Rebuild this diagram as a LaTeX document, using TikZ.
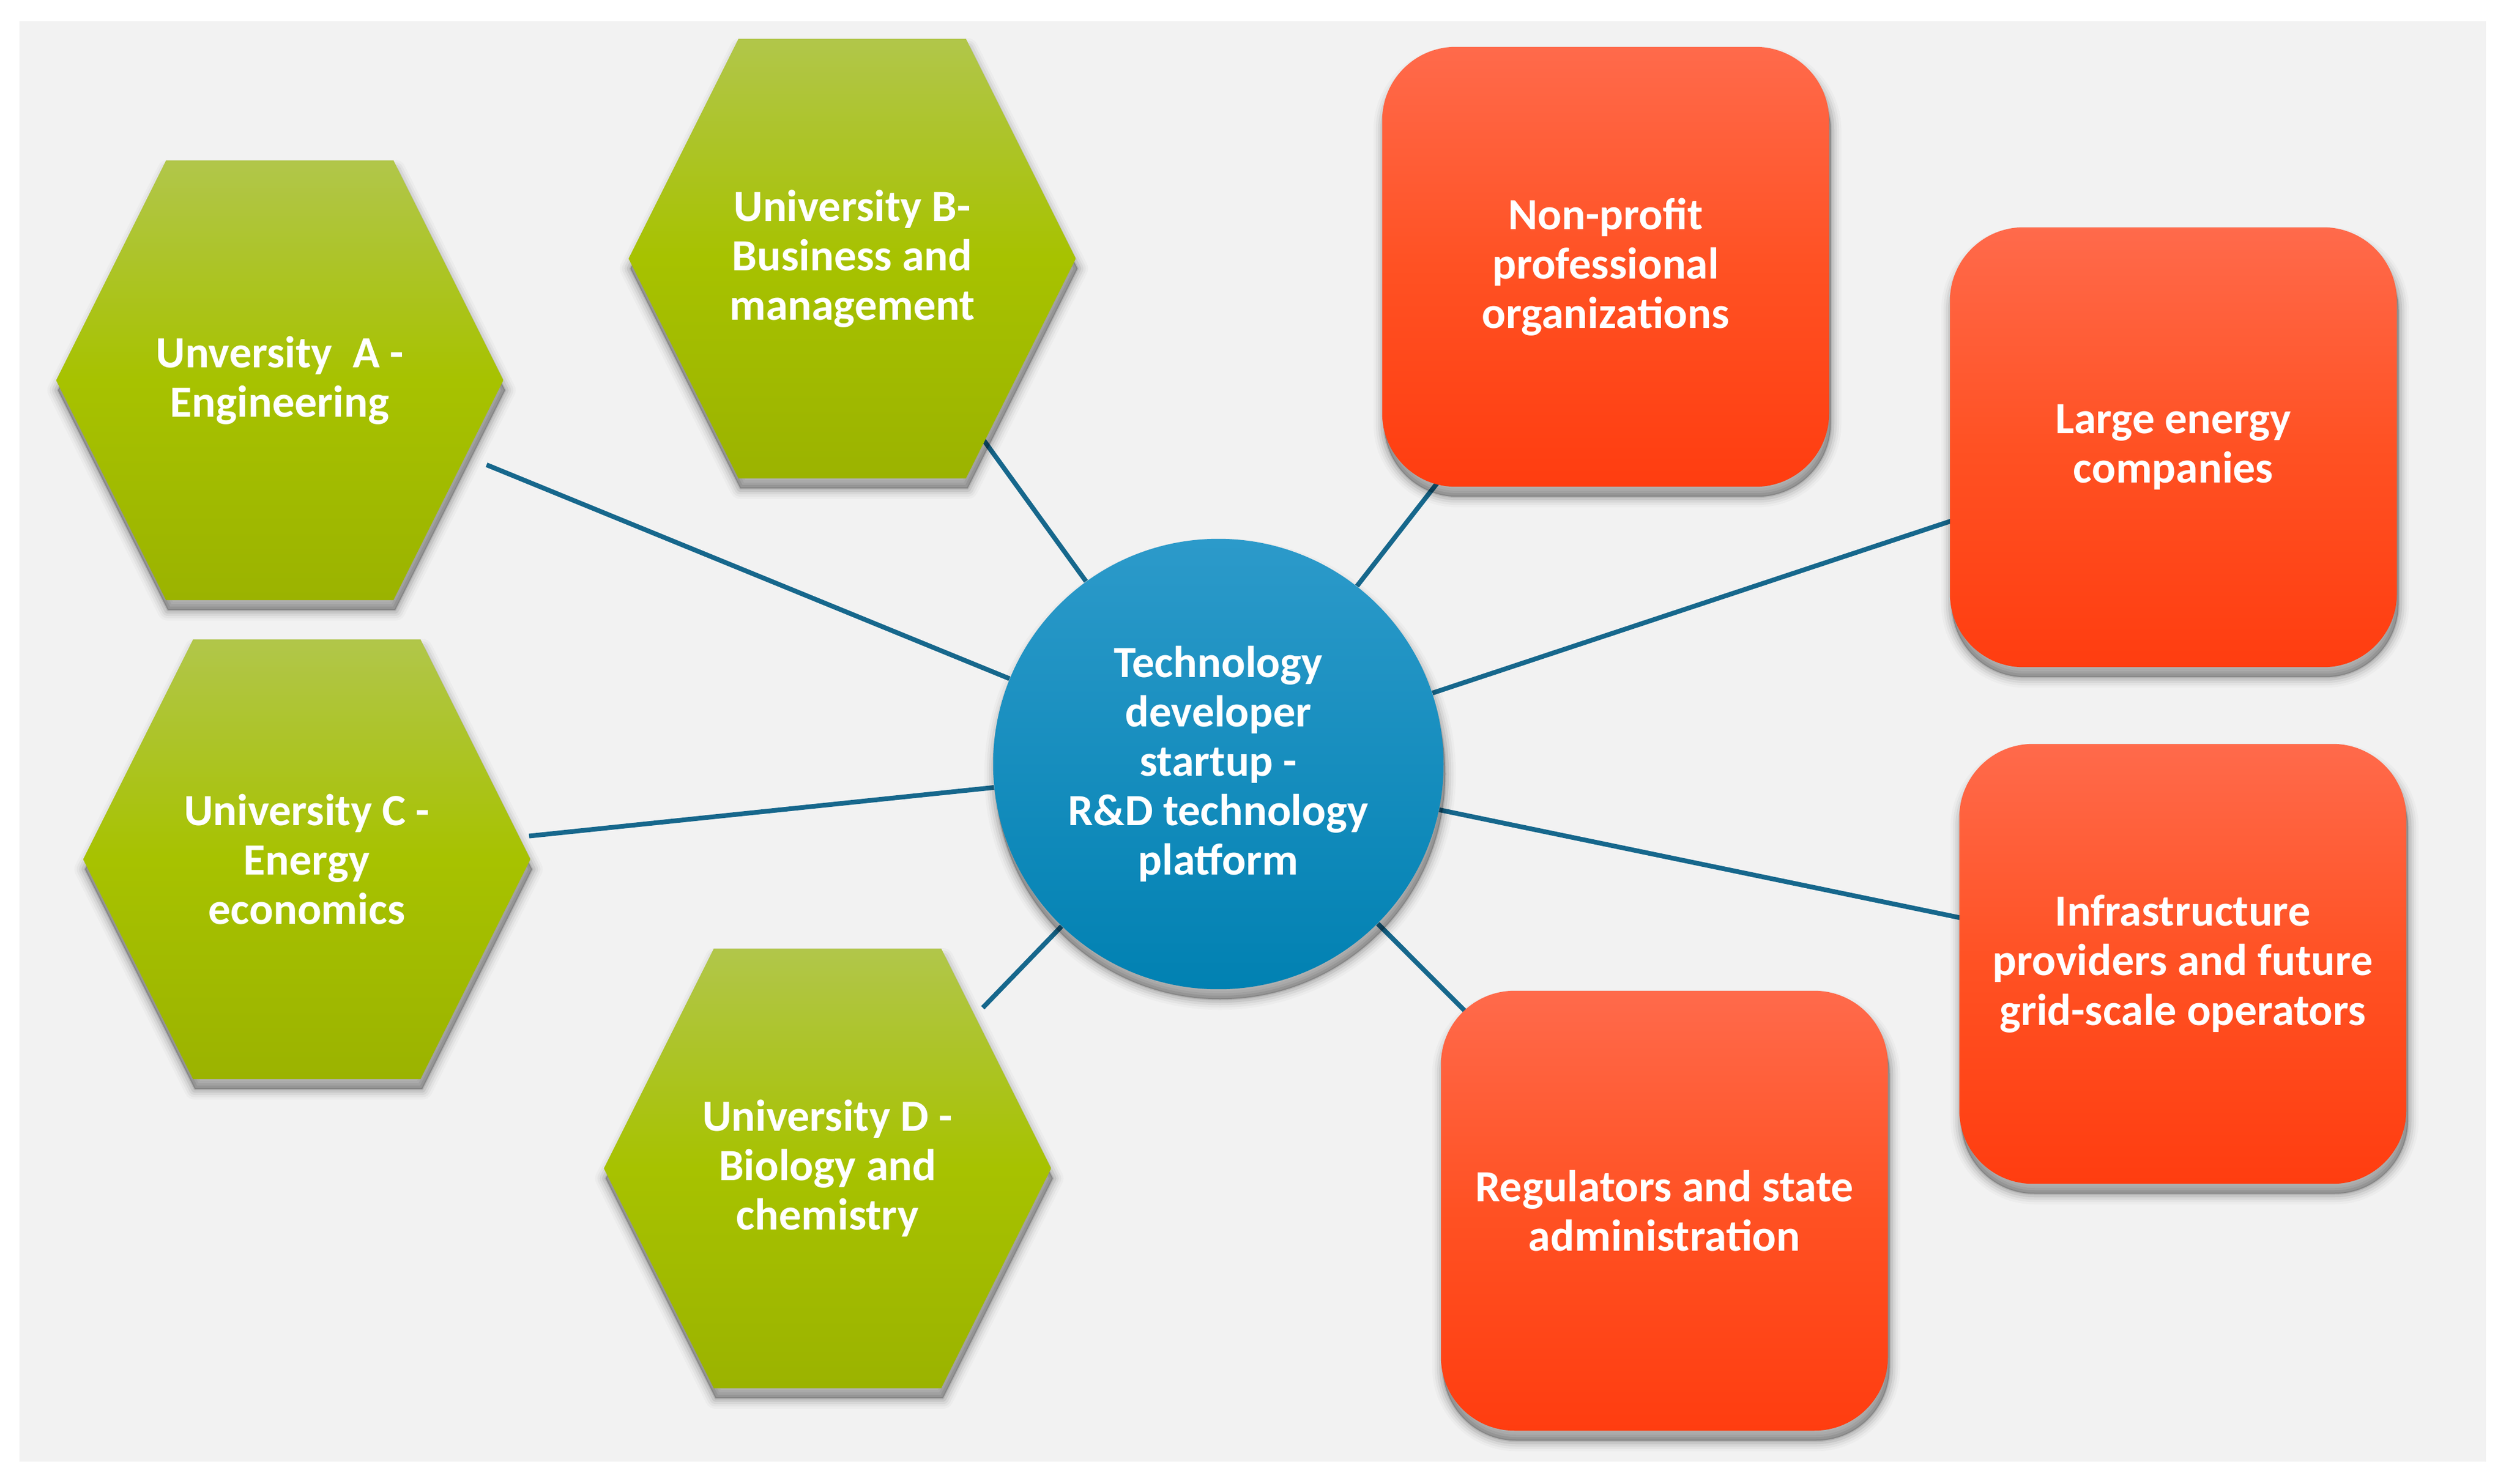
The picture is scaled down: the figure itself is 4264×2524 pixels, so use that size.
\documentclass[tikz,border=0pt]{standalone}
\usepackage{fontspec}
\setmainfont{Carlito}
\usetikzlibrary{shadows}
\pgfdeclarelayer{bg}
\pgfdeclarelayer{lines}
\pgfsetlayers{bg,lines,main}

\definecolor{bggray}{HTML}{F2F2F2}
\definecolor{gTop}{HTML}{B1C64A}
\definecolor{gMid}{HTML}{A7C200}
\definecolor{gBot}{HTML}{9BB300}
\definecolor{rTop}{HTML}{FF6A4B}
\definecolor{rMid}{HTML}{FF5123}
\definecolor{rBot}{HTML}{FF3D10}
\definecolor{bTop}{HTML}{2C9ACA}
\definecolor{bBot}{HTML}{0181B2}
\definecolor{lineblue}{HTML}{16678C}

\tikzset{
  shadowlayer/.style 2 args={general shadow={draw=black, fill=black, draw opacity=#2, fill opacity=#2, line width=#1, line join=round, shadow yshift=-0.17cm, shadow xshift=0.03cm}},
  shapeshadow/.style={shadowlayer={0.36cm}{0.025}, shadowlayer={0.28cm}{0.035}, shadowlayer={0.20cm}{0.05}, shadowlayer={0.12cm}{0.07}, shadowlayer={0.04cm}{0.09}},
  hexfill/.style={top color=gTop, bottom color=gBot, middle color=gMid, shapeshadow},
  lbl/.style={text=white, align=center, font=\fontsize{21.6pt}{23.9pt}\selectfont\bfseries, inner sep=0pt},
  redbox/.style={rectangle, rounded corners=1.25cm, minimum width=7.6cm, minimum height=7.48cm, top color=rTop, bottom color=rBot, middle color=rMid, shapeshadow, lbl},
  hub/.style={circle, minimum size=7.66cm, top color=bTop, bottom color=bBot, shapeshadow, lbl},
  conn/.style={draw=lineblue, line width=0.08cm},
  hexconn/.style={conn, shorten >=3.8cm},
}

\begin{document}
\begin{tikzpicture}[x=0.01cm, y=-0.01cm]
\useasboundingbox (0,0) rectangle (4264,2524);
\begin{pgfonlayer}{bg}
  \fill[white] (0,0) rectangle (4264,2524);
  \fill[bggray] (33,36) rectangle (4230,2487);
\end{pgfonlayer}

% hexagons (green)
\shade[hexfill] (476,647) ++(-380.5,0) -- ++(187,-374) -- ++(387,0) -- ++(187,374) -- ++(-187,374) -- ++(-387,0) -- cycle;
\shade[hexfill] (1450,440) ++(-380.5,0) -- ++(187,-374) -- ++(387,0) -- ++(187,374) -- ++(-187,374) -- ++(-387,0) -- cycle;
\shade[hexfill] (522,1462) ++(-380.5,0) -- ++(187,-374) -- ++(387,0) -- ++(187,374) -- ++(-187,374) -- ++(-387,0) -- cycle;
\shade[hexfill] (1408,1988) ++(-380.5,0) -- ++(187,-374) -- ++(387,0) -- ++(187,374) -- ++(-187,374) -- ++(-387,0) -- cycle;

\node[lbl] (ua) at (476,647) {Unversity\ \ A -\\Engineering};
\node[lbl] (ub) at (1450,440) {University B-\\Business and\\management};
\node[lbl] (uc) at (522,1462) {University C -\\Energy\\economics};
\node[lbl] (ud) at (1408,1988) {University D -\\Biology and\\chemistry};

% hub
\node[hub] (tech) at (2073,1300) {Technology\\developer\\startup -\\R\&D technology\\platform};

% red boxes
\node[redbox] (np) at (2732,454) {Non-profit\\professional\\organizations};
\node[redbox] (le) at (3698,761) {Large energy\\companies};
\node[redbox] (ip) at (3714,1640) {Infrastructure\\providers and future\\grid-scale operators};
\node[redbox] (rs) at (2832,2060) {Regulators and state\\administration};

% connectors
\begin{pgfonlayer}{lines}
  \foreach \n in {ua,ub,uc,ud} \draw[hexconn] (tech) -- (\n.center);
  \foreach \n in {np,le,ip,rs} \draw[conn] (tech) -- (\n.center);
\end{pgfonlayer}
\end{tikzpicture}
\end{document}
